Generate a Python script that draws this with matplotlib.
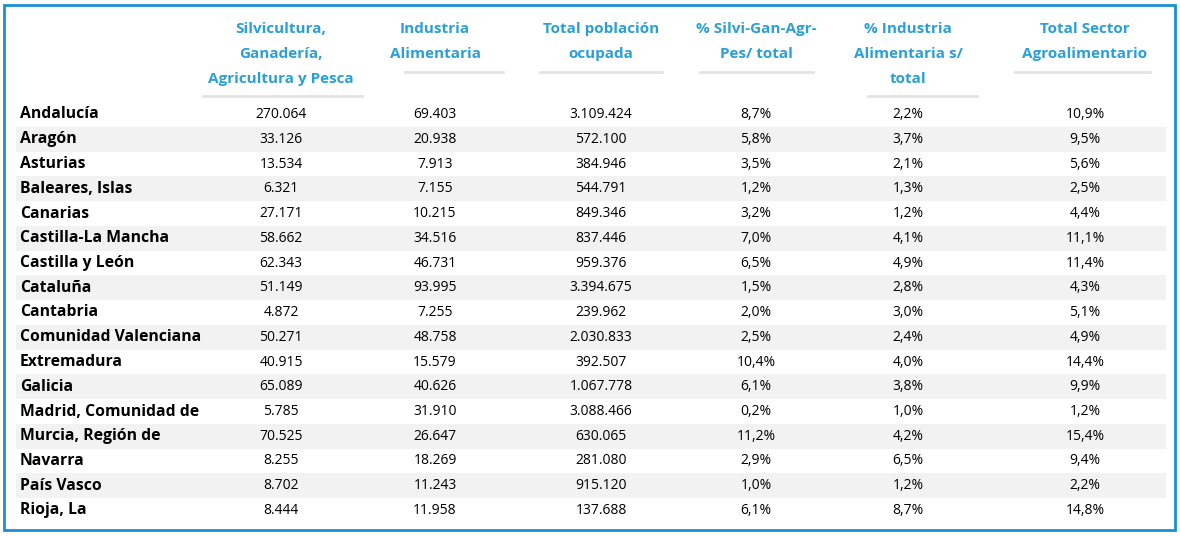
import matplotlib
matplotlib.use('Agg')
import matplotlib.pyplot as plt
from matplotlib.patches import Rectangle
from matplotlib.lines import Line2D

W, H = 1180, 536

headers = [
    ['Silvicultura,', 'Ganadería,', 'Agricultura y Pesca'],
    ['Industria', 'Alimentaria'],
    ['Total población', 'ocupada'],
    ['% Silvi-Gan-Agr-', 'Pes/ total'],
    ['% Industria', 'Alimentaria s/', 'total'],
    ['Total Sector', 'Agroalimentario'],
]
regions = ['Andalucía', 'Aragón', 'Asturias', 'Baleares, Islas', 'Canarias',
           'Castilla-La Mancha', 'Castilla y León', 'Cataluña', 'Cantabria',
           'Comunidad Valenciana', 'Extremadura', 'Galicia',
           'Madrid, Comunidad de', 'Murcia, Región de', 'Navarra',
           'País Vasco', 'Rioja, La']
silvi = ['270.064', '33.126', '13.534', '6.321', '27.171', '58.662', '62.343',
         '51.149', '4.872', '50.271', '40.915', '65.089', '5.785', '70.525',
         '8.255', '8.702', '8.444']
industria = ['69.403', '20.938', '7.913', '7.155', '10.215', '34.516', '46.731',
             '93.995', '7.255', '48.758', '15.579', '40.626', '31.910', '26.647',
             '18.269', '11.243', '11.958']
poblacion = ['3.109.424', '572.100', '384.946', '544.791', '849.346', '837.446',
             '959.376', '3.394.675', '239.962', '2.030.833', '392.507',
             '1.067.778', '3.088.466', '630.065', '281.080', '915.120', '137.688']
pct_silvi = ['8,7%', '5,8%', '3,5%', '1,2%', '3,2%', '7,0%', '6,5%', '1,5%',
             '2,0%', '2,5%', '10,4%', '6,1%', '0,2%', '11,2%', '2,9%', '1,0%', '6,1%']
pct_ind = ['2,2%', '3,7%', '2,1%', '1,3%', '1,2%', '4,1%', '4,9%', '2,8%',
           '3,0%', '2,4%', '4,0%', '3,8%', '1,0%', '4,2%', '6,5%', '1,2%', '8,7%']
pct_total = ['10,9%', '9,5%', '5,6%', '2,5%', '4,4%', '11,1%', '11,4%', '4,3%',
             '5,1%', '4,9%', '14,4%', '9,9%', '1,2%', '15,4%', '9,4%', '2,2%', '14,8%']
columns = [silvi, industria, poblacion, pct_silvi, pct_ind, pct_total]

col_x = [281, 435, 601, 756, 908, 1085]
line_span = [(203, 362), (405, 503), (540, 662), (700, 813), (868, 977), (1015, 1150)]
BLUE = '#2a9fd8'

fig = plt.figure(figsize=(W / 100, H / 100), dpi=100)
fig.patch.set_facecolor('white')


def fx(x):
    return x / W


def fy(y):
    return 1 - y / H


fig.patches.append(Rectangle((fx(4), fy(530)), fx(1171), 525 / H,
                             transform=fig.transFigure, fill=False,
                             edgecolor='#1a8fd6', linewidth=2))

row0, dy = 114.5, 24.75
for i, name in enumerate(regions):
    y = row0 + i * dy
    if i % 2 == 1:
        fig.patches.append(Rectangle((fx(16), fy(y + dy / 2)), fx(1150), dy / H,
                                     transform=fig.transFigure,
                                     facecolor='#f2f2f2', edgecolor='none'))
    fig.text(fx(20), fy(y), name, fontsize=11.3, fontweight='bold',
             family='Open Sans', va='center', ha='left', color='black')
    for cx, col in zip(col_x, columns):
        fig.text(fx(cx), fy(y), col[i], fontsize=10, family='Open Sans',
                 va='center', ha='center', color='black')

for cx, (a, b), lines in zip(col_x, line_span, headers):
    for j, t in enumerate(lines):
        fig.text(fx(cx), fy(29 + j * 25), t, fontsize=11, fontweight='bold',
                 family='Open Sans', va='center', ha='center', color=BLUE)
    ly = 72 if len(lines) == 2 else 96
    fig.lines.append(Line2D([fx(a), fx(b)], [fy(ly), fy(ly)],
                            transform=fig.transFigure, color='#e3e3e3', linewidth=2))

fig.savefig('out.png', dpi=100)
